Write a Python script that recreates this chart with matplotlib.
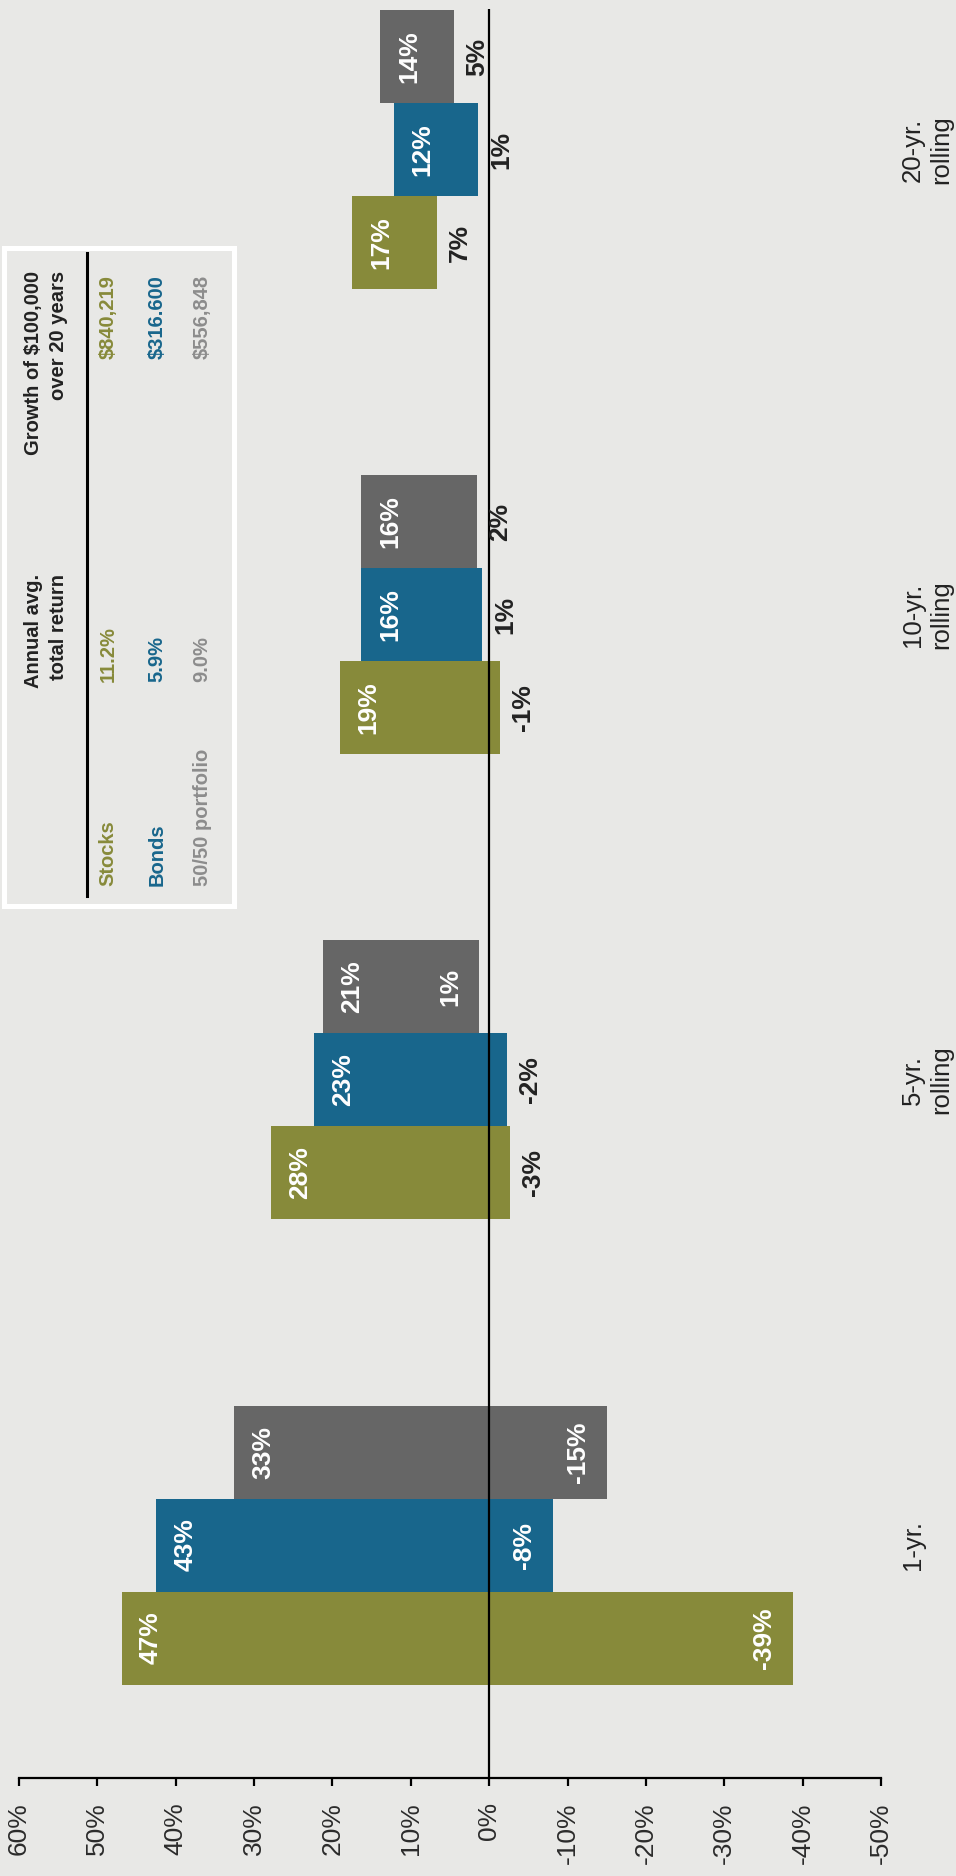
import matplotlib
matplotlib.use("Agg")
import matplotlib.pyplot as plt
from matplotlib.patches import Rectangle
from matplotlib.lines import Line2D
import numpy as np

plt.rcParams['font.family'] = ['Liberation Sans', 'DejaVu Sans']

# ---------------- data ----------------
categories = ["1-yr.", "5-yr.\nrolling", "10-yr.\nrolling", "20-yr.\nrolling"]

stocks_high = [46.9, 27.8, 19.1, 17.5]
stocks_low = [-38.8, -2.6, -1.4, 6.7]
bonds_high = [42.5, 22.4, 16.3, 12.2]
bonds_low = [-8.2, -2.3, 0.9, 1.4]
mix_high = [32.5, 21.2, 16.3, 13.9]
mix_low = [-15.0, 1.3, 1.5, 4.5]

stocks_high_lbl = ["47%", "28%", "19%", "17%"]
stocks_low_lbl = ["-39%", "-3%", "-1%", "7%"]
bonds_high_lbl = ["43%", "23%", "16%", "12%"]
bonds_low_lbl = ["-8%", "-2%", "1%", "1%"]
mix_high_lbl = ["33%", "21%", "16%", "14%"]
mix_low_lbl = ["-15%", "1%", "2%", "5%"]

stocks_low_inside = [True, False, False, False]
bonds_low_inside = [True, False, False, False]
mix_low_inside = [True, True, False, False]

tick_values = [60, 50, 40, 30, 20, 10, 0, -10, -20, -30, -40, -50]
tick_labels = [f"{v}%" for v in tick_values]

legend_names = ["Stocks", "Bonds", "50/50 portfolio"]
legend_returns = ["11.2%", "5.9%", "9.0%"]
legend_growth = ["$840,219", "$316.600", "$556,848"]
header_return = "Annual avg.\ntotal return"
header_growth = "Growth of $100,000\nover 20 years"

# ---------------- style ----------------
BG = "#E8E8E6"
OLIVE = "#878A3A"
BLUE = "#18668C"
GRAY = "#666666"
LEG_GRAY = "#8C8C8C"
DARK = "#222222"

W, H = 956, 1876
fig = plt.figure(figsize=(W / 100, H / 100), dpi=100, facecolor=BG)

ax = fig.add_axes([19 / W, 98 / H, 862 / W, 1769 / H])
ax.set_facecolor(BG)
ax.set_xlim(60, -50)
ax.set_ylim(-0.501, 3.303)

pos = np.arange(len(categories))
bar_h = 0.2
series = [
    (stocks_high, stocks_low, stocks_high_lbl, stocks_low_lbl, stocks_low_inside, OLIVE, -0.2),
    (bonds_high, bonds_low, bonds_high_lbl, bonds_low_lbl, bonds_low_inside, BLUE, 0.0),
    (mix_high, mix_low, mix_high_lbl, mix_low_lbl, mix_low_inside, GRAY, 0.2),
]

for hi, lo, hl, ll, inside, col, off in series:
    hi = np.array(hi)
    lo = np.array(lo)
    y = pos + off
    ax.barh(y, hi - lo, left=lo, height=bar_h, color=col, linewidth=0, zorder=2)
    for yi, h, l, ht, lt, ins in zip(y, hi, lo, hl, ll, inside):
        ax.annotate(ht, xy=(h, yi), xytext=(29, 0), textcoords="offset pixels",
                    ha="center", va="center", rotation=90, fontsize=19,
                    fontweight="bold", color="white", zorder=4)
        if ins:
            ax.annotate(lt, xy=(l, yi), xytext=(-29, 0), textcoords="offset pixels",
                        ha="center", va="center", rotation=90, fontsize=19,
                        fontweight="bold", color="white", zorder=4)
        else:
            ax.annotate(lt, xy=(l, yi), xytext=(23, 0), textcoords="offset pixels",
                        ha="center", va="center", rotation=90, fontsize=19,
                        fontweight="bold", color=DARK, zorder=4)

ax.axvline(0, color="black", lw=1.6, zorder=3)

for s in ["top", "left", "right"]:
    ax.spines[s].set_visible(False)
ax.spines["bottom"].set_linewidth(1.6)
ax.spines["bottom"].set_color("black")
ax.set_yticks([])
ax.set_xticks(tick_values)
ax.set_xticklabels(tick_labels)
ax.tick_params(axis="x", direction="out", length=5.8, width=1.6, color="black",
               pad=11.5, labelsize=19, labelcolor="#2B2B2B", labelrotation=90)

for p, cat in zip(pos, categories):
    ax.annotate(cat, xy=(1, p), xycoords=("axes fraction", "data"),
                xytext=(20, 0), textcoords="offset pixels",
                ha="left", va="center", rotation=90, fontsize=18.5,
                color=DARK, multialignment="center", linespacing=1.2,
                annotation_clip=False)

# ---------------- legend box ----------------
def fx(x):
    return x / W

def fy(y):
    return 1 - y / H

fig.add_artist(Rectangle((fx(4), fy(906)), (234 - 4) / W, (906 - 248) / H,
                         transform=fig.transFigure, facecolor="none",
                         edgecolor="white", linewidth=3.6))
fig.add_artist(Line2D([fx(87), fx(87)], [fy(253), fy(896)],
                      transform=fig.transFigure, color="black", linewidth=2.2))

txt_kw = dict(rotation=90, fontsize=14.5, fontweight="bold", parse_math=False)

fig.text(fx(46), fy(271), header_growth, ha="center", va="top",
         multialignment="right", color=DARK, linespacing=1.45, **txt_kw)
fig.text(fx(46), fy(574), header_return, ha="center", va="top",
         multialignment="right", color=DARK, linespacing=1.45, **txt_kw)

row_x = [108, 157, 202]
row_colors = [OLIVE, BLUE, LEG_GRAY]
for x, name, ret, gr, c in zip(row_x, legend_names, legend_returns, legend_growth, row_colors):
    fig.text(fx(x), fy(886), name, ha="center", va="bottom", color=c, **txt_kw)
    fig.text(fx(x), fy(682), ret, ha="center", va="bottom", color=c, **txt_kw)
    fig.text(fx(x), fy(359), gr, ha="center", va="bottom", color=c, **txt_kw)

fig.savefig("out.png", dpi=100, facecolor=BG)
